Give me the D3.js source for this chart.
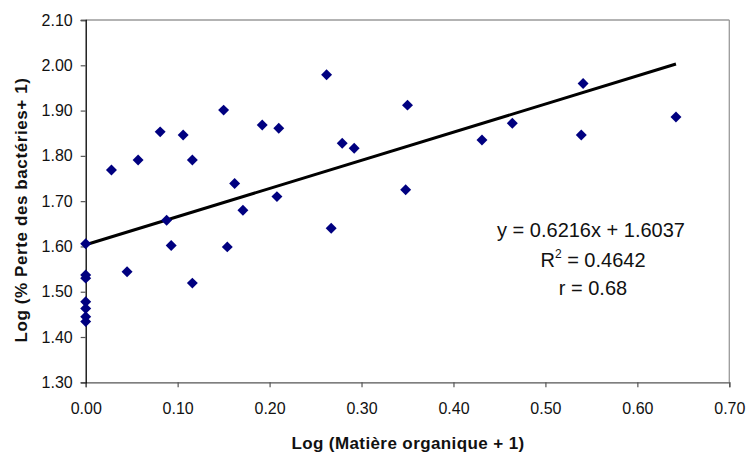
<!DOCTYPE html>
<html><head><meta charset="utf-8">
<script src="https://cdn.jsdelivr.net/npm/d3@7"></script>
<style>
body{margin:0;background:#fff;}
svg{display:block;font-family:"Liberation Sans",Arial,Helvetica,sans-serif;}
</style></head>
<body>
<svg id="chart" width="746" height="453"></svg>
<script>
// Data: Log(Matière organique + 1) vs Log(% Perte des bactéries + 1)
const xValues = [0, 0, 0, 0, 0, 0, 0,
  0.028, 0.057, 0.081, 0.106, 0.116, 0.150, 0.162, 0.171, 0.088,
  0.045, 0.093, 0.116, 0.154,
  0.192, 0.210, 0.262, 0.279, 0.292, 0.350, 0.431, 0.208, 0.348, 0.267,
  0.464, 0.541, 0.539, 0.642];
const yValues = [1.606, 1.537, 1.530, 1.478, 1.463, 1.445, 1.434,
  1.769, 1.791, 1.853, 1.846, 1.791, 1.901, 1.739, 1.680, 1.658,
  1.544, 1.602, 1.519, 1.599,
  1.868, 1.861, 1.979, 1.828, 1.817, 1.912, 1.835, 1.710, 1.725, 1.640,
  1.872, 1.960, 1.846, 1.886];
const xTicks = [0, 0.1, 0.2, 0.3, 0.4, 0.5, 0.6, 0.7];
const yTicks = [1.3, 1.4, 1.5, 1.6, 1.7, 1.8, 1.9, 2.0, 2.1];
const slope = 0.6216, intercept = 1.6037;
const eqLines = ["y = 0.6216x + 1.6037", "R2 = 0.4642", "r = 0.68"];
const xTitle = "Log (Matière organique + 1)";
const yTitle = "Log (% Perte des bactéries+ 1)";

const svg = d3.select("#chart");
const L = 85.7, R = 729.3, T = 20, B = 382.3;
const x = d3.scaleLinear().domain([0, 0.7]).range([L, R]);
const y = d3.scaleLinear().domain([1.3, 2.1]).range([B, T]);

// top & right border
svg.append("line").attr("x1", L).attr("x2", R).attr("y1", T).attr("y2", T)
  .attr("stroke", "#9a9a9a").attr("stroke-width", 1.3);
svg.append("line").attr("x1", R).attr("x2", R).attr("y1", T).attr("y2", B)
  .attr("stroke", "#9a9a9a").attr("stroke-width", 1.3);

// axes
const xAxis = svg.append("g").attr("transform", `translate(0,${B})`)
  .call(d3.axisBottom(x).tickValues(xTicks).tickFormat(d3.format(".2f")).tickSize(5).tickPadding(15));
xAxis.select(".domain").attr("stroke", "#555").attr("stroke-width", 1.3);
xAxis.selectAll(".tick line").attr("stroke", "#555").attr("stroke-width", 1.2);
xAxis.selectAll("text").attr("font-size", 16).attr("fill", "#111")
  .attr("font-family", "Liberation Sans, Arial, sans-serif");

const yAxis = svg.append("g").attr("transform", `translate(${L},0)`)
  .call(d3.axisLeft(y).tickValues(yTicks).tickFormat(d3.format(".2f")).tickSize(5).tickPadding(8));
yAxis.select(".domain").attr("stroke", "#000").attr("stroke-width", 1.3);
yAxis.selectAll(".tick line").attr("stroke", "#555").attr("stroke-width", 1.2);
yAxis.selectAll("text").attr("font-size", 16).attr("fill", "#111")
  .attr("font-family", "Liberation Sans, Arial, sans-serif");

// trend line
const xMax = d3.max(xValues);
svg.append("line")
  .attr("x1", x(0)).attr("y1", y(intercept))
  .attr("x2", x(xMax)).attr("y2", y(slope * xMax + intercept))
  .attr("stroke", "#000").attr("stroke-width", 3);

// points
const pts = xValues.map((v, i) => ({x: v, y: yValues[i]}));
svg.append("g").selectAll("path").data(pts).join("path")
  .attr("d", d3.symbol(d3.symbolSquare, 60))
  .attr("transform", d => `translate(${x(d.x)},${y(d.y)}) rotate(45)`)
  .attr("fill", "#000080");

// equation text
const eq = svg.append("g").attr("font-size", 20).attr("fill", "#111").attr("text-anchor", "middle");
eq.append("text").attr("x", 591).attr("y", 237).text(eqLines[0]);
const r2 = eq.append("text").attr("x", 593).attr("y", 267);
r2.append("tspan").text("R");
r2.append("tspan").attr("font-size", 12).attr("dy", -9).text("2");
r2.append("tspan").attr("dy", 9).text(" = 0.4642");
eq.append("text").attr("x", 593).attr("y", 295).text(eqLines[2]);

// axis titles
svg.append("text").attr("x", 408).attr("y", 449).attr("text-anchor", "middle")
  .attr("font-size", 17).attr("font-weight", "bold").attr("letter-spacing", 0.4).attr("fill", "#111")
  .text(xTitle);
svg.append("text").attr("transform", "translate(27,210) rotate(-90)").attr("text-anchor", "middle")
  .attr("font-size", 17).attr("font-weight", "bold").attr("letter-spacing", 0.6).attr("fill", "#111")
  .text(yTitle);
</script>
</body></html>
